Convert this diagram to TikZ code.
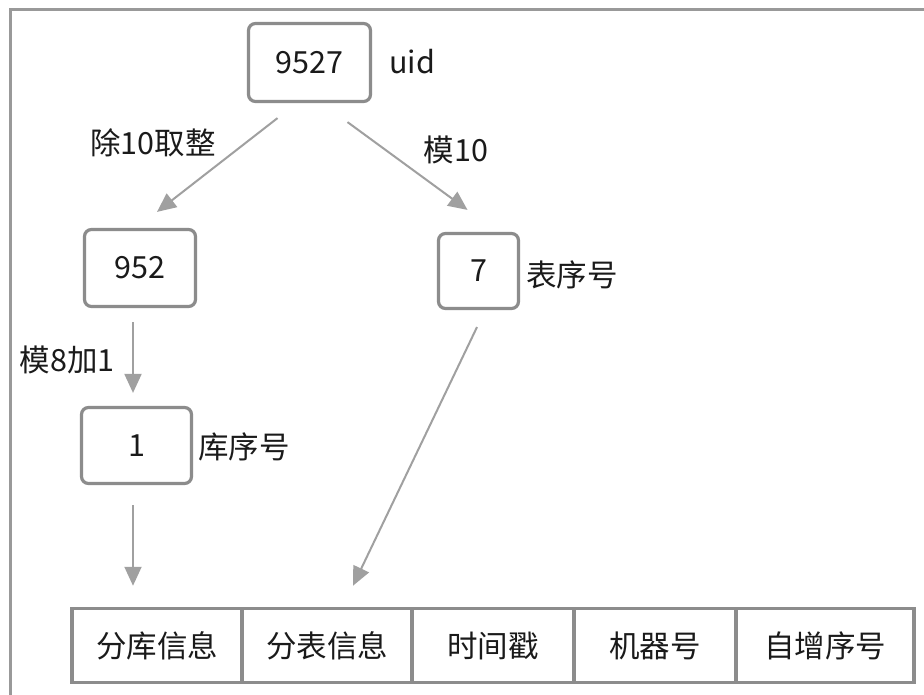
\documentclass[tikz,border=0pt]{standalone}
\usepackage{fontspec}
\setmainfont{Noto Sans CJK SC}
\usetikzlibrary{arrows.meta,calc}
\definecolor{boxgray}{HTML}{8C8C8C}
\definecolor{arrgray}{HTML}{A0A0A0}
\definecolor{framegray}{HTML}{999999}
\definecolor{txt}{HTML}{1A1A1A}
\begin{document}
\begin{tikzpicture}[x=1pt,y=-1pt,
  every node/.style={text=txt, font=\fontsize{30.5}{33}\selectfont},
  rbox/.style={draw=boxgray, line width=3.2pt, rounded corners=7pt, inner sep=0pt},
  cell/.style={draw=boxgray, line width=3.5pt, inner sep=0pt, minimum height=74pt},
  lbl/.style={inner sep=0pt},
  arr/.style={draw=arrgray, line width=2pt, -{Triangle[length=19pt,width=17pt]}}]
\useasboundingbox (0,0) rectangle (924,695);
\fill[white] (0,0) rectangle (924,695);
% frame
\draw[framegray, line width=3pt] (10,700) -- (10,9.5) -- (930,9.5);
% boxes
\node[rbox, minimum width=122pt, minimum height=78pt] (uid) at (309.5,62.5) {9527};
\node[lbl, anchor=west] (uidl) at (389,62) {uid};
\node[rbox, minimum width=111pt, minimum height=77pt] (q) at (140,268) {952};
\node[rbox, minimum width=80pt, minimum height=75pt] (r) at (478.5,271) {7};
\node[lbl, anchor=west] (rl) at (526,275) {表序号};
\node[rbox, minimum width=110pt, minimum height=76pt] (db) at (136.5,445.5) {1};
\node[lbl, anchor=west] (dbl) at (198,447) {库序号};
% labels on arrows
\node[lbl] (l1) at (153,143) {除10取整};
\node[lbl] (l2) at (456,150) {模10};
\node[lbl] (l3) at (67,360) {模8加1};
% bottom row
\node[cell, minimum width=170pt] (c1) at (157,645.5) {分库信息};
\node[cell, minimum width=170pt] (c2) at (327,645.5) {分表信息};
\node[cell, minimum width=162pt] (c3) at (493,645.5) {时间戳};
\node[cell, minimum width=162pt] (c4) at (655,645.5) {机器号};
\node[cell, minimum width=178pt] (c5) at (825,645.5) {自增序号};
% arrow ends
\coordinate (a1s) at ($(uid.south)+(-32,15)$);
\coordinate (a1e) at ($(q.north)+(17,-16)$);
\coordinate (a2s) at ($(uid.south)+(38,19)$);
\coordinate (a2e) at ($(r.north)+(-11,-22)$);
\coordinate (a3s) at ($(q.south)+(-7,14)$);
\coordinate (a3e) at ($(db.north)+(-3.5,-13)$);
\coordinate (a4s) at ($(r.south)+(-1.5,17)$);
\coordinate (a4e) at ($(c2.north)+(26,-21)$);
\coordinate (a5s) at ($(db.south)+(-3.5,20)$);
\coordinate (a5e) at ($(c1.north)+(-24,-21)$);
\draw[arr] (a1s) -- (a1e);
\draw[arr] (a2s) -- (a2e);
\draw[arr] (a3s) -- (a3e);
\draw[arr] (a4s) -- (a4e);
\draw[arr] (a5s) -- (a5e);
\end{tikzpicture}
\end{document}
